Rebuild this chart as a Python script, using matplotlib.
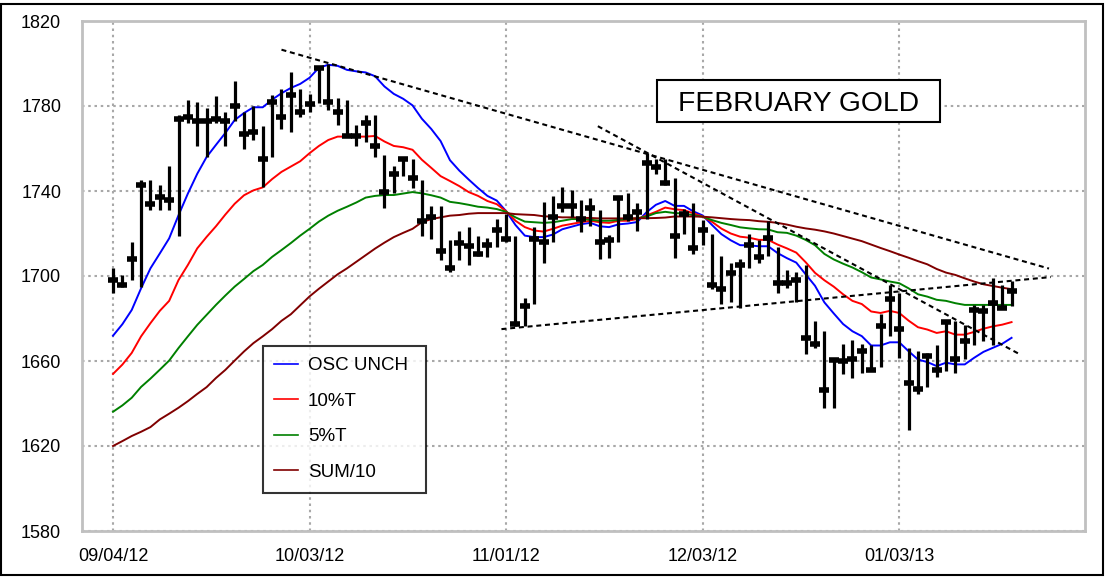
import matplotlib
matplotlib.use("Agg")
import matplotlib.pyplot as plt
from matplotlib.patches import Rectangle

# ---------------- data ----------------
high = [1704, 1700.5, 1716, 1745, 1745, 1743, 1752, 1776, 1783, 1782,
        1779, 1784.5, 1777, 1792, 1777, 1780, 1770.5, 1785, 1788, 1796,
        1788, 1785.5, 1799, 1800, 1784, 1783, 1771, 1776, 1776, 1757,
        1752, 1756, 1755, 1745, 1733, 1733, 1717, 1721, 1723, 1719,
        1718, 1727, 1729, 1719, 1689.5, 1723, 1735, 1737.5, 1742, 1740.5,
        1736, 1736.5, 1731, 1719.5, 1737.5, 1739, 1734.5, 1758, 1755, 1755,
        1746, 1731.5, 1734.5, 1726.5, 1720, 1709.5, 1706, 1708, 1720, 1717,
        1726, 1713.5, 1703, 1702, 1705, 1679, 1674, 1661.5, 1668, 1670,
        1668, 1667.5, 1682, 1696, 1692, 1666, 1664.5, 1664, 1667.5, 1679.5,
        1679, 1677, 1686.5, 1686.5, 1699, 1696, 1697.5]
low = [1692, 1695, 1698, 1695, 1731, 1731, 1731, 1719, 1772, 1761,
       1756, 1772, 1761, 1773, 1760, 1764, 1742, 1756, 1769, 1768,
       1775, 1777, 1781.5, 1778, 1771, 1766, 1761, 1763, 1756, 1732,
       1739, 1747, 1741.5, 1719, 1717.5, 1707.5, 1702, 1707.5, 1705, 1709.5,
       1709, 1713.5, 1716, 1676.5, 1676.5, 1687, 1706, 1716, 1730, 1728,
       1720.5, 1723.5, 1708, 1708.5, 1716, 1726, 1721, 1727, 1748, 1743,
       1708.5, 1720, 1710.5, 1714.5, 1694, 1687, 1688, 1685, 1704, 1706,
       1709.5, 1692, 1694.5, 1688, 1663.5, 1666, 1638, 1638, 1654, 1652,
       1654.5, 1656, 1657, 1672, 1661.5, 1627.5, 1644.5, 1648, 1652.5, 1655.5,
       1654.5, 1661, 1667.5, 1669.5, 1667.5, 1685, 1686]
close = [1698, 1696, 1708, 1743, 1734, 1737, 1736, 1774, 1775, 1773,
         1773, 1774, 1773, 1780, 1767, 1768, 1755, 1782, 1775, 1785,
         1777, 1781, 1798, 1782, 1777, 1766, 1766, 1772, 1761, 1739.5,
         1748, 1755, 1746, 1726, 1728, 1712, 1704, 1715.5, 1714, 1710.5,
         1714.5, 1721.5, 1717.5, 1677.5, 1686, 1717.5, 1716, 1728, 1733, 1733,
         1727, 1732, 1716, 1717, 1736.5, 1728, 1730, 1753, 1751.5, 1744,
         1719, 1729, 1713, 1721.5, 1696, 1694, 1701.5, 1705, 1714.5, 1709,
         1718, 1696.5, 1696.5, 1698, 1671, 1668, 1646.5, 1660.5, 1660, 1661,
         1664.5, 1656, 1676.5, 1689, 1675, 1649.5, 1647, 1662.5, 1656, 1678.5,
         1661, 1669.5, 1684, 1683.5, 1687.5, 1685, 1693]

osc_unch = [1671.9, 1677.3, 1684, 1694.2, 1703.6, 1710.6, 1717.7, 1728.6, 1738.8, 1748.1,
            1756, 1761.7, 1767.3, 1773.4, 1776.7, 1779.4, 1779.4, 1783, 1786, 1788.5,
            1790.4, 1793.3, 1798, 1799.4, 1798.9, 1797, 1796.3, 1795.8, 1794, 1789.2,
            1785.7, 1783.4, 1780.3, 1774, 1769.2, 1763.5, 1754.5, 1749.6, 1745.4, 1741.4,
            1737.7, 1735.5, 1730.5, 1724, 1719, 1718.3, 1718.3, 1719.5, 1722, 1723.2,
            1724.4, 1725, 1723.4, 1723, 1724.3, 1724.7, 1725.4, 1730, 1733.5, 1735.3,
            1733, 1733, 1730.4, 1728.5, 1724, 1719.7, 1716.8, 1714.5, 1714.4, 1714,
            1714, 1710.8, 1708.4, 1706.3, 1700.8, 1695.4, 1687.6, 1682.4, 1677.4, 1674,
            1671.7, 1667.3, 1667.3, 1668.8, 1668.8, 1664.6, 1660.7, 1659.5, 1657.6, 1659.2,
            1658.4, 1658.4, 1661.5, 1664.3, 1666.2, 1668.1, 1670.9]
t10 = [1653.9, 1658.3, 1663.8, 1671.6, 1677.8, 1683.6, 1688.3, 1698.1, 1705.2, 1713,
       1718.4, 1723.4, 1728.9, 1734, 1738, 1740.3, 1741.7, 1745.6, 1749, 1751.5,
       1754, 1757.8, 1761.2, 1764, 1765.6, 1765.6, 1765.6, 1765.6, 1765.9, 1763.3,
       1761.2, 1760.6, 1759.4, 1754.7, 1750.9, 1747, 1744.7, 1742.3, 1739.5, 1737.7,
       1735.3, 1733.8, 1730.5, 1726, 1723, 1721.4, 1720.9, 1722.2, 1723.7, 1724.5,
       1725.3, 1726, 1725.3, 1725, 1726, 1726, 1726.8, 1728.5, 1730.2, 1732.2,
       1731.4, 1731, 1729.5, 1728, 1725.5, 1722.3, 1720, 1718.5, 1718, 1717,
       1717, 1714.8, 1713, 1711, 1706.5, 1701.5, 1698, 1695, 1691.4, 1688.3,
       1686.8, 1683.3, 1682.6, 1683.6, 1682.6, 1679, 1675.9, 1674.8, 1673.2, 1674,
       1672.4, 1672.4, 1673.7, 1675.2, 1676.3, 1677.1, 1678.3]
t5 = [1636.1, 1639.1, 1642.7, 1647.8, 1651.7, 1655.9, 1660.2, 1666.1, 1671.6, 1677,
      1681.7, 1686.4, 1690.8, 1695, 1698.6, 1702.3, 1705.2, 1709, 1712.2, 1715.5,
      1719, 1722.2, 1725.6, 1728.4, 1730.7, 1732.6, 1734.6, 1736.9, 1737.7, 1738.1,
      1738.1, 1738.8, 1739.5, 1738.9, 1738, 1736.9, 1734.9, 1734.3, 1733.5, 1732.6,
      1732.2, 1731.5, 1730.2, 1727.6, 1725.6, 1725.3, 1725, 1725.3, 1726, 1726.8,
      1726.8, 1726.5, 1726, 1726, 1726.4, 1726.8, 1727.1, 1728, 1729.6, 1730.2,
      1729.6, 1729.4, 1728.6, 1727.9, 1726.3, 1725, 1724, 1722.9, 1722.4, 1722,
      1721.9, 1720.6, 1720.3, 1719, 1717, 1714.5, 1710.4, 1707.8, 1705.8, 1704,
      1701.8, 1699.3, 1698.4, 1697.4, 1696.6, 1694.2, 1691.4, 1690.3, 1688.8, 1688.3,
      1687.2, 1686.4, 1686.4, 1686.4, 1686.4, 1686.4, 1686.4]
sum10 = [1620, 1622.3, 1624.7, 1626.7, 1628.9, 1632.5, 1635.2, 1638, 1641.1, 1644.5,
         1647.7, 1652, 1655.8, 1660.2, 1664.5, 1668.4, 1671.6, 1675, 1678.9, 1682,
         1686.2, 1690.4, 1694, 1697.4, 1700.8, 1703.6, 1706.7, 1709.8, 1712.9, 1715.7,
         1718.3, 1720.3, 1722.2, 1725.3, 1726.8, 1727.6, 1728.4, 1728.7, 1729.3, 1729.6,
         1729.6, 1729.6, 1729.6, 1729.1, 1728.9, 1728.7, 1728.1, 1727.9, 1727.6, 1727.6,
         1727.4, 1727.3, 1727.1, 1727.1, 1727.1, 1727.1, 1727.2, 1727.2, 1727.3, 1727.5,
         1728, 1728, 1728, 1727.9, 1727.6, 1727.2, 1726.8, 1726.5, 1726.3, 1725.8,
         1725.5, 1725, 1724.2, 1723.2, 1722.4, 1721.8, 1721, 1720, 1718.8, 1717.6,
         1716.4, 1714.8, 1713.2, 1711.7, 1710.1, 1708.6, 1707, 1705.5, 1703.3, 1701.6,
         1700.5, 1698.9, 1697.4, 1696.1, 1695.3, 1694.5, 1693.8]

series_names = ["OSC UNCH", "10%T", "5%T", "SUM/10"]
date_labels = ["09/04/12", "10/03/12", "11/01/12", "12/03/12", "01/03/13"]
date_index = [0, 21, 42, 63, 84]
price_ticks = [1580, 1620, 1660, 1700, 1740, 1780, 1820]

# trend lines: (bar index, price) end points
upper_trend_x = [18, 100]
upper_trend_y = [1806.5, 1703.5]
lower_trend_x = [41.5, 100.2]
lower_trend_y = [1675, 1699.5]
steep_trend_x = [51.8, 96.9]
steep_trend_y = [1770.5, 1663.1]

# ---------------- plot ----------------
plt.rcParams['font.family'] = ['Liberation Sans', 'DejaVu Sans']

W, H = 1109, 577
fig = plt.figure(figsize=(W / 100, H / 100), dpi=100)
L, R, T, B = 82, 1085, 21, 531
ax = fig.add_axes([L / W, 1 - B / H, (R - L) / W, (B - T) / H])

x = list(range(len(close)))
colors = ['#0000ff', '#ff0000', '#008000', '#800000']
handles = []
for vals, name, c in zip([osc_unch, t10, t5, sum10], series_names, colors):
    h, = ax.plot(x, vals, color=c, lw=1.4, label=name, zorder=2)
    handles.append(h)

ax.vlines(x, low, high, color='black', lw=2.3, zorder=3)
ax.plot(x, close, ls='none', marker='_', ms=7.8, mew=4.0, color='black', zorder=3)

dot = (0, (2.4, 1.8))
for tx, ty in [(upper_trend_x, upper_trend_y), (lower_trend_x, lower_trend_y),
               (steep_trend_x, steep_trend_y)]:
    ax.plot(tx, ty, color='black', lw=1.5, ls=dot, zorder=4)

ax.set_xlim((L - 113) / 9.36, (R - 113) / 9.36)
ax.set_ylim(1580, 1820)
ax.set_yticks(price_ticks)
ax.set_xticks(date_index)
ax.set_xticklabels(date_labels)
ax.tick_params(axis='both', length=0, labelsize=13)
ax.tick_params(axis='y', pad=15)
ax.tick_params(axis='x', pad=12)
ax.grid(True, color='#a8a8a8', ls=(0, (1.2, 1.8)), lw=1.5)
for s in ax.spines.values():
    s.set_color('#c0c0c0')
    s.set_linewidth(2)

lx0 = (262.7 - L) / (R - L)
ly1 = (B - 345.7) / (B - T)
ly0 = (B - 488.3) / (B - T)
lw_ = (426 - 262.7) / (R - L)
leg = ax.legend(handles=handles, loc='upper left', bbox_to_anchor=(lx0, ly0, lw_, ly1 - ly0),
                mode='expand', borderaxespad=0, fontsize=13.5, frameon=True, fancybox=False,
                handlelength=1.25, handletextpad=0.55, borderpad=0.62, labelspacing=0.98)
leg.get_frame().set_edgecolor('black')
leg.get_frame().set_linewidth(1.5)
for lh in leg.get_lines():
    lh.set_linewidth(1.2)
leg.set_zorder(5)

# title box
fig.add_artist(Rectangle((657 / W, 1 - 122 / H), 283 / W, 42 / H, transform=fig.transFigure,
                         fill=True, facecolor='white', edgecolor='black', lw=1.5, zorder=6))
fig.text(798.5 / W, 1 - 111 / H, "FEBRUARY GOLD", ha='center', va='baseline',
         fontsize=20.3, zorder=7)

# outer frame
fig.add_artist(Rectangle((1 / W, 2 / H), 1102 / W, 571 / H, transform=fig.transFigure,
                         fill=False, edgecolor='black', lw=1.5))

fig.savefig("out.png", dpi=100)
